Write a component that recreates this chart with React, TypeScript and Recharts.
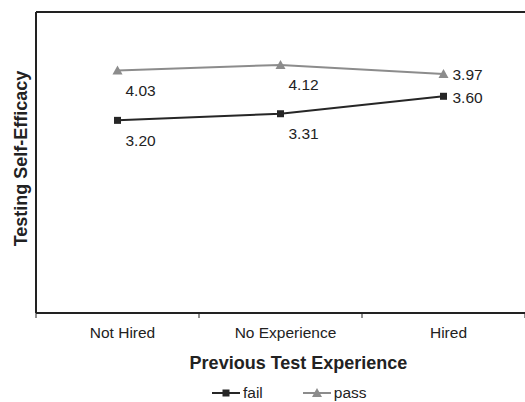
import { LineChart, Line, XAxis, YAxis, ReferenceLine, Legend, LabelList } from 'recharts'

const categories = ['Not Hired', 'No Experience', 'Hired']
const failValues = [3.2, 3.31, 3.6]
const passValues = [4.03, 4.12, 3.97]

const FONT = '"Liberation Sans", Arial, sans-serif'
const INK = '#222'
const FAIL_COLOR = '#262626'
const PASS_COLOR = '#8c8c8c'
const TEXT_SIZE = 15.5
const TITLE_SIZE = 18

const data = categories.map((name, i) => ({ name, fail: failValues[i], pass: passValues[i] }))

const series = [
  { key: 'fail', name: 'fail', color: FAIL_COLOR, shape: 'square' },
  { key: 'pass', name: 'pass', color: PASS_COLOR, shape: 'triangle' },
]

function Marker({ cx, cy, shape, color }: { cx: number; cy: number; shape: string; color: string }) {
  if (shape === 'square') {
    return <rect x={cx - 3.5} y={cy - 3.5} width={7} height={7} fill={color} />
  }
  return <polygon points={`${cx},${cy - 5} ${cx + 5},${cy + 4} ${cx - 5},${cy + 4}`} fill={color} />
}

const makeDot = (shape: string, color: string) => (props: any) => (
  <Marker key={`${shape}-${props.index}`} cx={props.cx} cy={props.cy} shape={shape} color={color} />
)

const renderValue = (props: any) => {
  const { x, y, value, index } = props
  const last = index === categories.length - 1
  return (
    <text
      x={x + (last ? 9 : 8)}
      y={y + (last ? 1 : 20)}
      dy="0.35em"
      fontSize={TEXT_SIZE}
      fontFamily={FONT}
      fill={INK}
    >
      {Number(value).toFixed(2)}
    </text>
  )
}

// labels centred in each band, tick marks on the band edges
const CategoryTick = (props: any) => {
  const { x, y, payload, index, width } = props
  const band = (width || 489) / categories.length
  const left = x - band / 2
  return (
    <g>
      <line x1={left} y1={y} x2={left} y2={y + 5} stroke={INK} strokeWidth={1} />
      {index === categories.length - 1 && (
        <line x1={x + band / 2} y1={y} x2={x + band / 2} y2={y + 5} stroke={INK} strokeWidth={1} />
      )}
      <text x={x + 5} y={y + 20} dy="0.35em" textAnchor="middle" fontSize={TEXT_SIZE} fontFamily={FONT} fill={INK}>
        {payload.value}
      </text>
    </g>
  )
}

const renderLegend = () => (
  <div style={{ display: 'flex', fontSize: TEXT_SIZE, fontFamily: FONT, color: INK, lineHeight: '16px', whiteSpace: 'nowrap' }}>
    {series.map((s, i) => (
      <span key={s.key} style={{ display: 'inline-flex', alignItems: 'center', marginLeft: i ? 40 : 0 }}>
        <svg width={28} height={12}>
          <line x1={0} y1={6} x2={28} y2={6} stroke={s.color} strokeWidth={2} />
          <Marker cx={14} cy={6} shape={s.shape} color={s.color} />
        </svg>
        <span style={{ marginLeft: 3 }}>{s.name}</span>
      </span>
    ))}
  </div>
)

export default function App() {
  return (
    <div style={{ position: 'absolute', left: 0, top: 0, background: '#fff' }}>
      <LineChart width={525} height={402} data={data} margin={{ top: 12, right: 0, left: 0, bottom: 45 }}>
        <XAxis
          dataKey="name"
          scale="band"
          height={44}
          tickSize={0}
          tickMargin={0}
          tickLine={false}
          axisLine={{ stroke: INK, strokeWidth: 2 }}
          tick={<CategoryTick />}
          interval={0}
          label={{
            value: 'Previous Test Experience',
            position: 'bottom',
            offset: -1,
            dx: 18,
            fontSize: TITLE_SIZE,
            fontWeight: 'bold',
            fontFamily: FONT,
            fill: INK,
          }}
        />
        <YAxis
          width={36}
          domain={[0, 5]}
          tick={false}
          tickLine={false}
          axisLine={{ stroke: INK, strokeWidth: 2 }}
          label={{
            value: 'Testing Self-Efficacy',
            angle: -90,
            position: 'center',
            dx: 3,
            dy: -4,
            fontSize: TITLE_SIZE,
            fontWeight: 'bold',
            fontFamily: FONT,
            fill: INK,
          }}
        />
        <ReferenceLine y={5} stroke={INK} strokeWidth={2} />
        <Line
          dataKey="pass"
          name="pass"
          stroke={PASS_COLOR}
          strokeWidth={2}
          dot={makeDot('triangle', PASS_COLOR)}
          isAnimationActive={false}
        >
          <LabelList dataKey="pass" content={renderValue} />
        </Line>
        <Line
          dataKey="fail"
          name="fail"
          stroke={FAIL_COLOR}
          strokeWidth={2}
          dot={makeDot('square', FAIL_COLOR)}
          isAnimationActive={false}
        >
          <LabelList dataKey="fail" content={renderValue} />
        </Line>
        <Legend
          layout="horizontal"
          verticalAlign="middle"
          content={renderLegend}
          wrapperStyle={{ top: 385, left: 212, width: 220 }}
        />
      </LineChart>
    </div>
  )
}
